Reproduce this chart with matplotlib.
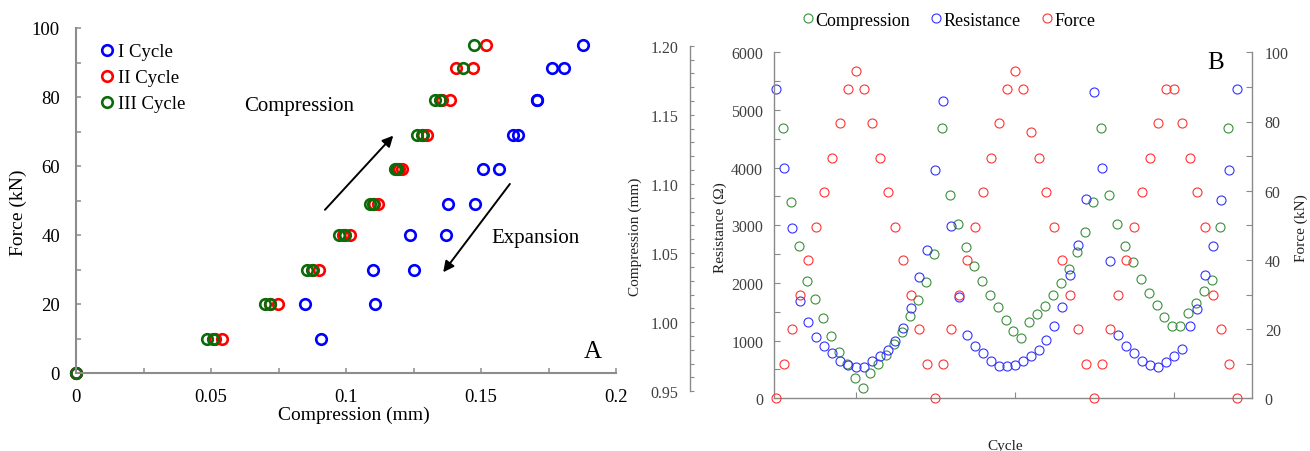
import numpy as np
import matplotlib
matplotlib.use('Agg')
import matplotlib.pyplot as plt
from matplotlib.ticker import MultipleLocator, FixedLocator, FormatStrFormatter

plt.rcParams['font.family'] = ['Liberation Serif', 'DejaVu Serif']

# ---- panel A: force (kN) vs compression (mm), three load cycles
cycle1_force = [0, 10, 20, 30, 40, 49, 59, 69, 79, 88.5, 95,
                88.5, 79, 69, 59, 49, 40, 30, 20]
cycle1_comp = [0, 0.0906, 0.1107, 0.1250, 0.1370, 0.1477, 0.1568, 0.1638, 0.1706, 0.1807, 0.1877,
               0.1764, 0.1706, 0.1620, 0.1506, 0.1376, 0.1237, 0.1100, 0.0848]
cycle2_force = [0, 10, 20, 30, 40, 49, 59, 69, 79, 88.5, 95,
                88.5, 79, 69, 59, 49, 40, 30, 20, 10]
cycle2_comp = [0, 0.0515, 0.0720, 0.0878, 0.0990, 0.1105, 0.1195, 0.1285, 0.1355, 0.1407, 0.1519,
               0.1469, 0.1385, 0.1299, 0.1206, 0.1120, 0.1015, 0.0901, 0.0749, 0.0540]
cycle3_force = [0, 10, 20, 30, 40, 49, 59, 69, 79, 88.5, 95,
                79, 69, 59, 49, 40, 30, 20, 10]
cycle3_comp = [0, 0.0484, 0.0700, 0.0854, 0.0975, 0.1089, 0.1181, 0.1262, 0.1330, 0.1434, 0.1474,
               0.1348, 0.1280, 0.1190, 0.1100, 0.0996, 0.0873, 0.0719, 0.0508]
cycle_labels = ['I Cycle', 'II Cycle', 'III Cycle']

# ---- panel B: values per cycle step
resistance = [5363, 3988, 2958, 1692, 1328, 1068, 901, 785, 652, 577,
              537, 548, 642, 739, 843, 1000, 1214, 1561, 2098, 2577,
              3959, 5150, 2993, 1751, 1103, 902, 785, 652, 555, 555,
              586, 652, 728, 843, 1016, 1248, 1578, 2138, 2658, 3456,
              5316, 3988, 2386, 1098, 902, 785, 652, 577, 537, 635,
              728, 855, 1248, 1548, 2138, 2646, 3444, 3959, 5363]
force = [0, 10, 20, 30, 40, 49.5, 59.5, 69.5, 79.5, 89.5,
         94.5, 89.5, 79.5, 69.5, 59.5, 49.5, 40, 30, 20, 10,
         0, 10, 20, 30, 40, 49.5, 59.5, 69.5, 79.5, 89.5,
         94.5, 89.5, 77, 69.5, 59.5, 49.5, 40, 30, 20, 10,
         0, 10, 20, 30, 40, 49.5, 59.5, 69.5, 79.5, 89.5,
         89.5, 79.5, 69.5, 59.5, 49.5, 30, 20, 10, 0]
compression = [1.1403, 1.0868, 1.0554, 1.0300, 1.0168, 1.0028, 0.9898, 0.9787, 0.9698, 0.9594,
               0.9522, 0.9632, 0.9698, 0.9763, 0.9842, 0.9927, 1.0043, 1.0163, 1.0289, 1.0493,
               1.1403, 1.0920, 1.0708, 1.0542, 1.0409, 1.0300, 1.0197, 1.0108, 1.0016, 0.9935,
               0.9883, 0.9999, 1.0059, 1.0119, 1.0197, 1.0281, 1.0385, 1.0506, 1.0655, 1.0868,
               1.1403, 1.0920, 1.0708, 1.0554, 1.0435, 1.0313, 1.0209, 1.0127, 1.0040, 0.9970,
               0.9970, 1.0067, 1.0139, 1.0224, 1.0308, 1.0687, 1.1405]

W, H = 1310, 452
fig = plt.figure(figsize=(W / 100, H / 100), dpi=100)
fig.patch.set_facecolor('white')

# =================== panel A ===================
axA = fig.add_axes([76 / W, 78 / H, 540 / W, 345 / H])
mk = dict(ls='none', marker='o', mfc='none', ms=7.6, mew=1.9, clip_on=False)
axA.plot(cycle1_comp, cycle1_force, color='#0000ff', label=cycle_labels[0], **mk)
axA.plot(cycle2_comp, cycle2_force, color='#ff0000', label=cycle_labels[1], **mk)
axA.plot(cycle3_comp, cycle3_force, color='#0b6b0b', label=cycle_labels[2], **mk)
axA.set_xlim(0, 0.2)
axA.set_ylim(0, 100)
for s in ['top', 'right']:
    axA.spines[s].set_visible(False)
for s in ['left', 'bottom']:
    axA.spines[s].set_color('#8c8c8c')
    axA.spines[s].set_linewidth(1.5)
axA.xaxis.set_major_locator(FixedLocator([0, 0.05, 0.1, 0.15, 0.2]))
axA.xaxis.set_minor_locator(MultipleLocator(0.025))
axA.set_xticklabels(['0', '0.05', '0.1', '0.15', '0.2'])
axA.yaxis.set_major_locator(MultipleLocator(20))
axA.yaxis.set_minor_locator(MultipleLocator(10))
axA.tick_params(which='both', direction='in', length=3.6, width=1.1, color='#8c8c8c')
axA.tick_params(axis='y', labelsize=13.5, pad=11.5)
axA.tick_params(axis='x', labelsize=13.5, pad=11)
axA.set_xlabel('Compression (mm)', fontsize=14)
axA.xaxis.label.set_va('center')
axA.xaxis.set_label_coords((354 - 76) / 540, (374 - 415) / 345)
axA.set_ylabel('Force (kN)', fontsize=14)
axA.yaxis.label.set_va('center')
axA.yaxis.set_label_coords((18 - 76) / 540, (374 - 213) / 345)
axA.legend(loc='upper left', bbox_to_anchor=((100 - 76) / 540, (374 - 44) / 345),
           frameon=False, fontsize=13.5, handlelength=0.7, handletextpad=0.25,
           labelspacing=0.48, borderpad=0, borderaxespad=0)

arrow = dict(arrowstyle='-|>', lw=1.4, color='black', mutation_scale=16, shrinkA=0, shrinkB=0)
axA.annotate('', xy=(0.1175, 68.8), xytext=(0.0922, 47.3), arrowprops=arrow)
axA.annotate('', xy=(0.1360, 29.2), xytext=(0.1607, 54.8), arrowprops=arrow)
axA.text(0.0826, 77.4, 'Compression', fontsize=15, ha='center', va='center')
axA.text(0.1700, 39.4, 'Expansion', fontsize=15, ha='center', va='center')
axA.text(0.1915, 6.4, 'A', fontsize=18, ha='center', va='center')

# =================== panel B ===================
green, blue, red = '#3a8f3a', '#3333ff', '#ff3333'
gray = '#8a8a8a'
tcol = '#404040'
x0, w = 774.3 / W, 478 / W
xlim = (-0.25, 59.9)
x_step = np.arange(len(resistance))
x_comp = np.arange(len(compression)) + 0.85
mkb = dict(ls='none', marker='o', mfc='none', ms=6.5, mew=0.8, clip_on=False)

axC = fig.add_axes([x0, (H - 392.3) / H, w, 345.6 / H])
axR = fig.add_axes([x0, (H - 399.3) / H, w, 346 / H])
axF = axR.twinx()
for a in (axC, axR, axF):
    a.patch.set_visible(False)
    a.set_xlim(*xlim)

hc, = axC.plot(x_comp, compression, color=green, **mkb)
hr, = axR.plot(x_step, resistance, color=blue, **mkb)
hf, = axF.plot(x_step, force, color=red, **mkb)

# compression axis (outer left)
axC.set_ylim(0.95, 1.20)
for s in ['top', 'right', 'bottom']:
    axC.spines[s].set_visible(False)
axC.spines['left'].set_position(('axes', -84.3 / 478))
axC.spines['left'].set_color(gray)
axC.spines['left'].set_linewidth(1.0)
axC.set_xticks([])
axC.yaxis.set_major_locator(MultipleLocator(0.05))
axC.yaxis.set_minor_locator(MultipleLocator(0.01))
axC.yaxis.set_major_formatter(FormatStrFormatter('%.2f'))
axC.tick_params(axis='y', which='both', direction='in', length=3, width=0.8, color=gray,
                labelsize=11.5, labelcolor=tcol, pad=8.4)
axC.set_ylabel('Compression (mm)', fontsize=11, color='#202020')
axC.yaxis.label.set_va('center')
axC.yaxis.set_label_coords((635 - 774.3) / 478, (392.3 - 237) / 345.6)

# resistance axis
axR.set_ylim(0, 6000)
axR.spines['top'].set_visible(False)
axR.spines['right'].set_visible(False)
for s in ['left', 'bottom']:
    axR.spines[s].set_color(gray)
    axR.spines[s].set_linewidth(1.0)
axR.yaxis.set_major_locator(MultipleLocator(1000))
axR.yaxis.set_minor_locator(MultipleLocator(500))
axR.xaxis.set_major_locator(FixedLocator([10, 30, 50]))
axR.tick_params(axis='x', direction='in', length=4, width=0.8, color=gray, labelbottom=False)
axR.tick_params(axis='y', which='both', direction='in', length=4, width=0.8, color=gray,
                labelsize=11.5, labelcolor=tcol, pad=8)
axR.set_ylabel('Resistance (Ω)', fontsize=11, color='#202020')
axR.yaxis.label.set_va('center')
axR.yaxis.set_label_coords((720 - 774.3) / 478, (399.3 - 228) / 346)
axR.set_xlabel('Cycle', fontsize=11, color='#202020')
axR.xaxis.label.set_va('center')
axR.xaxis.set_label_coords((1005 - 774.3) / 478, (399.3 - 447) / 346)

# force axis (right)
axF.set_ylim(0, 100)
for s in ['top', 'left', 'bottom']:
    axF.spines[s].set_visible(False)
axF.spines['right'].set_color(gray)
axF.spines['right'].set_linewidth(1.0)
axF.yaxis.set_major_locator(MultipleLocator(20))
axF.yaxis.set_minor_locator(MultipleLocator(10))
axF.tick_params(axis='y', which='both', direction='in', length=4, width=0.8, color=gray,
                labelsize=11.5, labelcolor=tcol, pad=9)
axF.set_ylabel('Force (kN)', fontsize=11, color='#202020')
axF.yaxis.label.set_va('center')
axF.yaxis.set_label_coords((1301 - 774.3) / 478, (399.3 - 228) / 346)

fig.legend([hc, hr, hf], ['Compression', 'Resistance', 'Force'], loc='center',
           bbox_to_anchor=(949.5 / W, 1 - 21 / H), ncol=3, frameon=False, fontsize=13,
           handlelength=0.5, handletextpad=0.15, columnspacing=1.2, borderpad=0)
fig.text(1216 / W, 1 - 63 / H, 'B', fontsize=18, ha='center', va='center')

fig.savefig('out.png', dpi=100)
